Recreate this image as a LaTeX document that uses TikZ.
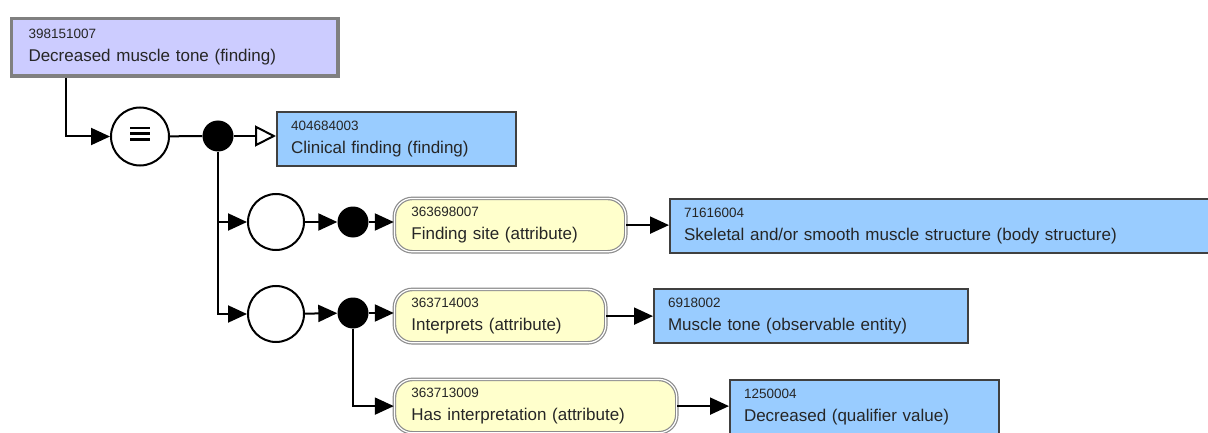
\documentclass[tikz,border=0pt]{standalone}
\usepackage{fontspec}
\setmainfont{Liberation Sans}
\usepackage{xcolor}
\usepackage{tikz}
\usetikzlibrary{arrows.meta, positioning}

\definecolor{definedlav}{HTML}{CCCCFF}
\definecolor{conceptblue}{HTML}{99CCFF}
\definecolor{attryellow}{HTML}{FFFFCC}

\newcommand{\sctid}[2]{{\fontsize{13.5}{23}\selectfont #1}\\#2}

\tikzset{
    base/.style={rectangle, anchor=north west, align=left, inner ysep=0pt,
        text=black!85, font=\fontsize{17}{23}\selectfont},
    defined/.style={base, fill=definedlav, draw=black!50, line width=3.5pt,
        inner xsep=17pt, minimum height=57.5pt, text width=#1},
    concept/.style={base, fill=conceptblue, draw=black!75, line width=2pt,
        inner xsep=14pt, minimum height=54pt, text width=#1},
    attribute/.style={base, fill=attryellow, draw=black!45, double=white,
        double distance=1.2pt, line width=1.2pt, rounded corners=18pt,
        inner xsep=17pt, minimum height=53.4pt, text width=#1},
    ring/.style={circle, draw, fill=white, line width=2pt, minimum size=56pt, inner sep=0pt},
    dot/.style={circle, fill=black, minimum size=31pt, inner sep=0pt},
    link/.style={line width=2pt, -{Triangle[length=19pt, width=17pt]}},
    isa/.style={line width=2pt, -{Triangle[open, length=21pt, width=21pt, fill=white]}}
}

\begin{document}
\begin{tikzpicture}[x=1pt, y=-1pt]
    \useasboundingbox (0,0) rectangle (1208,433);

    % 1. Khái niệm được định nghĩa
    \node[defined=292.5pt] (tone) at (9.75,16.75) {\sctid{398151007}{Decreased muscle tone (finding)}};

    % 2. Các nút tròn
    \node[ring, minimum size=58pt] (eqv) at (140,136.5) {};
    \foreach \dy in {-8.5,-2.7,3.1} {
        \draw[line width=2.6pt] ([shift={(-10,\dy)}]eqv.center) -- ([shift={(10,\dy)}]eqv.center);
    }
    \node[dot] (dot0) at (218,136) {};
    \node[ring] (ring1) at (276,222) {};
    \node[dot]  (dot1)  at (353,222) {};
    \node[ring] (ring2) at (276,314) {};
    \node[dot]  (dot2)  at (353,313) {};

    % 3. Thuộc tính và giá trị
    \node[concept=211pt] (clinical) at (276,111) {\sctid{404684003}{Clinical finding (finding)}};
    \node[attribute=197.4pt] (site) at (393.8,197.8) {\sctid{363698007}{Finding site (attribute)}};
    \node[concept=532pt] (muscle) at (669,198) {\sctid{71616004}{Skeletal and/or smooth muscle structure (body structure)}};
    \node[attribute=177.4pt] (interp) at (393.8,288.8) {\sctid{363714003}{Interprets (attribute)}};
    \node[concept=286pt] (mtone) at (653,288) {\sctid{6918002}{Muscle tone (observable entity)}};
    \node[attribute=248.4pt] (hasint) at (393.8,378.8) {\sctid{363713009}{Has interpretation (attribute)}};
    \node[concept=241pt] (decr) at (729,379) {\sctid{1250004}{Decreased (qualifier value)}};

    % 4. Các mũi tên
    \draw[link] ([xshift=56.25pt]tone.south west) |- (eqv);
    \draw[line width=2pt] (eqv) -- (dot0);
    \draw[isa] (dot0) -- (dot0 -| clinical.west);
    \draw[link] (dot0) |- (ring2);
    \draw[link] (dot0 |- ring1) -- (ring1);
    \draw[link] (ring1) -- (dot1);
    \draw[link] (dot1) -- (dot1 -| site.west);
    \draw[link] (site.east) -- (site.east -| muscle.west);
    \draw[link] (ring2) -- (dot2);
    \draw[link] (dot2) -- (dot2 -| interp.west);
    \draw[link] (interp.east) -- (interp.east -| mtone.west);
    \draw[link] (dot2) |- (hasint);
    \draw[link] (hasint.east) -- (hasint.east -| decr.west);
\end{tikzpicture}
\end{document}
